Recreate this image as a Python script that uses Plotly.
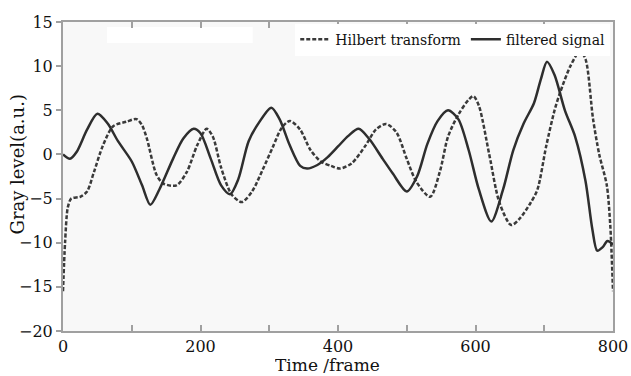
import plotly.graph_objects as go

# filtered signal (solid)
frames_filtered = [0, 10, 20, 35, 50, 65, 80, 100, 115, 127, 140, 160, 175, 190, 200, 215, 230, 243,
                   255, 270, 285, 303, 315, 330, 345, 355, 370, 385, 400, 415, 430, 445, 465, 480,
                   500, 515, 530, 545, 560, 575, 590, 605, 623, 640, 655, 670, 685, 695, 704, 715,
                   730, 745, 760, 770, 777, 785, 792, 800]
filtered_signal = [0.0, -0.5, 0.3, 2.8, 4.6, 3.5, 1.5, -0.8, -3.5, -5.7, -4.0, -0.5, 1.8, 2.9, 2.4,
                   -0.5, -3.5, -4.5, -2.8, 1.5, 3.6, 5.3, 4.0, 1.0, -1.3, -1.6, -1.2, -0.3, 0.9, 2.1,
                   2.9, 1.8, -0.5, -2.2, -4.2, -2.5, 1.2, 3.8, 5.0, 4.0, 0.5, -4.0, -7.6, -4.0, 0.5,
                   3.5, 5.8, 8.5, 10.5, 9.0, 5.0, 2.0, -3.0, -8.5, -10.9, -10.5, -9.8, -10.2]

# Hilbert transform (dashed)
frames_hilbert = [0, 3, 7, 12, 25, 35, 45, 58, 73, 92, 107, 115, 122, 136, 146, 165, 180, 195, 209,
                  218, 230, 245, 260, 275, 290, 305, 318, 330, 345, 360, 375, 390, 403, 420, 440,
                  455, 470, 485, 500, 514, 534, 548, 560, 575, 590, 597, 605, 620, 635, 652, 665,
                  680, 690, 703, 715, 723, 738, 752, 760, 771, 780, 791, 796, 800]
hilbert_transform = [-15.5, -10.0, -6.0, -5.0, -4.8, -4.2, -2.0, 1.0, 3.2, 3.7, 4.0, 3.3, 1.8, -2.3,
                     -3.3, -3.5, -2.0, 1.0, 2.9, 2.0, -1.5, -4.5, -5.4, -4.2, -1.8, 0.8, 3.0, 3.8,
                     2.8, 0.5, -0.8, -1.3, -1.6, -1.0, 1.0, 2.8, 3.45, 2.5, -0.5, -3.1, -4.8, -2.0,
                     2.0, 4.5, 6.2, 6.6, 5.5, 0.0, -5.5, -8.0, -7.2, -5.5, -4.0, 1.0, 5.0, 7.0,
                     10.0, 11.7, 10.8, 4.0, 0.0, -3.5, -8.0, -15.5]

x_tickvals = [0, 100, 200, 300, 400, 500, 600, 700, 800]
x_ticktext = ["0", "", "200", "", "400", "", "600", "", "800"]
y_tickvals = [-20, -15, -10, -5, 0, 5, 10, 15]

serif = "DejaVu Serif"

fig = go.Figure()
fig.add_trace(go.Scatter(
    x=frames_hilbert, y=hilbert_transform, mode="lines", name="Hilbert transform",
    line=dict(color="#3a3a3a", width=2.5, dash="4px,2px", shape="spline", smoothing=0.8)))
fig.add_trace(go.Scatter(
    x=frames_filtered, y=filtered_signal, mode="lines", name="filtered signal",
    line=dict(color="#2e2e2e", width=2.5, shape="spline", smoothing=0.8)))

axis_color = "#a0a0a0"
fig.update_xaxes(range=[0, 800], tickvals=x_tickvals, ticktext=x_ticktext, ticks="inside",
                 ticklen=6, tickwidth=1.5, tickcolor=axis_color, showline=True, linecolor=axis_color,
                 linewidth=2, mirror="ticks", showgrid=False, zeroline=False, automargin=False,
                 tickfont=dict(family=serif, size=16, color="#111"))
fig.update_yaxes(range=[-20, 15], tickvals=y_tickvals, ticks="outside", ticklen=5, tickwidth=1.5,
                 tickcolor=axis_color, showline=True, linecolor=axis_color, linewidth=2, mirror=True,
                 showgrid=False, zeroline=False, automargin=False,
                 tickfont=dict(family=serif, size=16, color="#111"))

# axis titles
fig.add_annotation(text="Time /frame", xref="paper", yref="paper", x=0.48, y=-0.1456,
                   xanchor="center", yanchor="bottom", showarrow=False, height=19,
                   font=dict(family=serif, size=17, color="#111"))
fig.add_annotation(text="Gray level(a.u.)", xref="paper", yref="paper", x=-0.083, y=0.54,
                   xanchor="center", yanchor="middle", textangle=-90, showarrow=False,
                   font=dict(family=serif, size=18, color="#111"))

fig.add_shape(type="rect", xref="paper", yref="paper", x0=0.08, x1=0.345, y0=0.932, y1=0.984,
              fillcolor="white", line=dict(width=0), layer="below")

fig.update_layout(
    width=631, height=376, margin=dict(l=63, r=18, t=22, b=45),
    paper_bgcolor="white", plot_bgcolor="#f8f8f8",
    legend=dict(orientation="h", x=0.995, y=0.995, xanchor="right", yanchor="top",
                bgcolor="white", font=dict(family=serif, size=14, color="#111"),
                itemwidth=30, tracegroupgap=0, borderwidth=0),
)
fig.write_html("out.html")
